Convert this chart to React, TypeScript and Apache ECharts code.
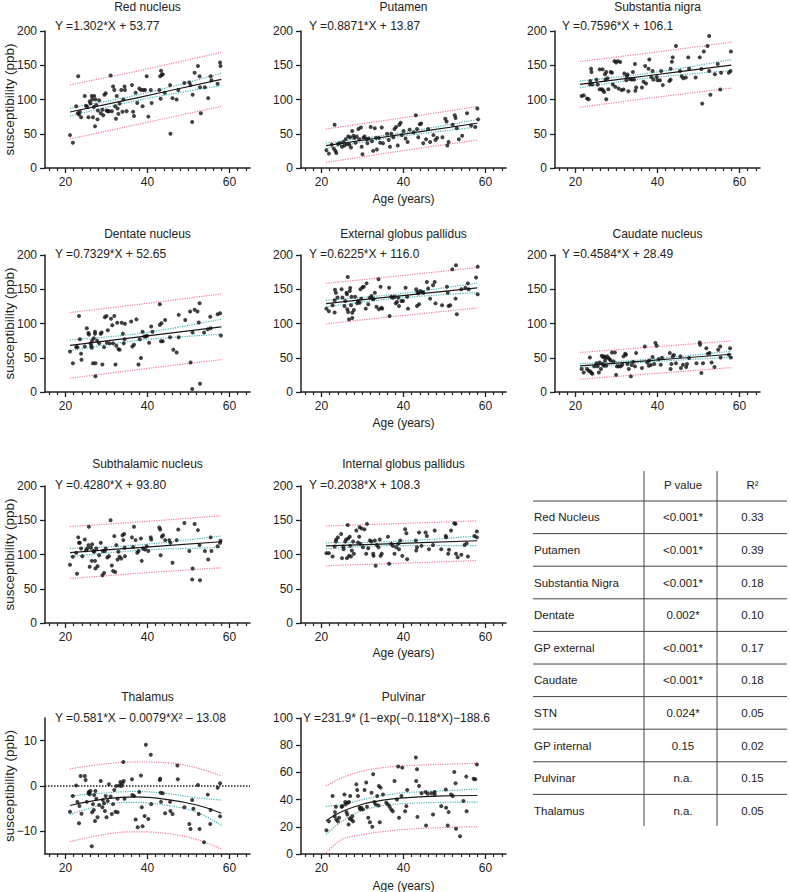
import { useEffect, useRef } from "react";
import * as echarts from "echarts";

// ---------- data ----------
const linearAges = [21.1, 38, 58];
const thalamusAges = [21.1, 30, 37, 45, 52, 58];
const pulvinarAges = [21.1, 25, 30, 35, 40, 50, 58];

const xMajorTicks = [20, 40, 60];
const xMinorTicks = [16, 18, 22, 24, 26, 28, 30, 32, 34, 36, 38, 42, 44, 46, 48, 50, 52, 54, 56, 58, 62, 64];
const thalamusYTicks = [-10, 0, 10];

const panelTitles = [
  "Red nucleus", "Putamen", "Substantia nigra",
  "Dentate nucleus", "External globus pallidus", "Caudate nucleus",
  "Subthalamic nucleus", "Internal globus pallidus",
  "Thalamus", "Pulvinar",
];
const panelEquations = [
  "Y =1.302*X + 53.77", "Y =0.8871*X + 13.87", "Y =0.7596*X + 106.1",
  "Y =0.7329*X + 52.65", "Y =0.6225*X + 116.0", "Y =0.4584*X + 28.49",
  "Y =0.4280*X + 93.80", "Y =0.2038*X + 108.3",
  "Y =0.581*X – 0.0079*X² – 13.08", "Y =231.9* (1−exp(−0.118*X)−188.6",
];

const redNucleusPoints = [[21.1,48],[21.8,37],[22.6,90],[23.1,134],[23,80],[23.3,78],[23.5,82],[23.8,74],[24.7,105],[25,91],[25.3,89],[25.6,74],[25.9,97],[26.1,94],[26.4,105],[26.5,100],[26.7,74],[26.9,89],[27,105],[27.2,61],[27.3,100],[27.5,92],[27.8,71],[27.9,84],[28.2,99],[28.6,80],[29,85],[29.2,77],[29.5,107],[29.8,109],[30,84],[30.3,83],[30.6,83],[31,135],[31.3,83],[31.6,119],[31.9,114],[32.1,90],[32.3,72],[32.5,105],[32.7,87],[32.9,79],[33.2,94],[33.6,114],[33.9,82],[34.1,100],[34.4,119],[34.5,114],[34.9,83],[36.2,121],[36.5,82],[36.7,76],[37.1,110],[37.5,95],[38,116],[38.4,114],[38.8,90],[39,114],[39.4,114],[39.8,134],[40.2,75],[40.8,114],[41,95],[42.9,114],[43.1,134],[43.3,142],[43.5,136],[43.7,137],[43.2,101],[44.2,110],[45.5,121],[45.6,50],[46.1,102],[47.1,100],[47.5,114],[49,124],[50.2,125],[50.5,121],[50.9,67],[51,107],[51.5,139],[52.3,149],[52.7,134],[52.8,118],[53,80],[54,118],[54.8,102],[55.4,134],[55.6,128],[57.1,123],[57.7,154],[57.8,149]];
const redNucleusFit = [81.8, 103.2, 129.3];
const redNucleusCiHigh = [87.8, 107.2, 138.3];
const redNucleusCiLow = [75.8, 99.2, 120.3];
const redNucleusPiHigh = [121.3, 142.2, 168.8];
const redNucleusPiLow = [42.3, 64.2, 89.8];

const putamenPoints = [[21.2,26],[21.8,21],[22.5,34],[23,28],[23.2,63],[23.4,25],[23.6,22],[24,35],[24.5,36],[25,31],[25.3,38],[25.6,33],[25.9,42],[26.2,35],[26.5,46],[26.8,34],[27,45],[27.2,30],[27.5,54],[27.8,47],[28,44],[28.3,37],[28.6,46],[29,57],[29.2,42],[29.6,59],[29.8,31],[30,20],[30.2,44],[30.5,46],[31,42],[31.2,36],[31.5,43],[32,60],[32.3,39],[32.6,25],[33,58],[33.3,44],[33.5,27],[34,44],[34.3,37],[34.7,59],[35,36],[36,50],[36.4,41],[36.7,31],[37,50],[37.5,45],[37.8,57],[38.2,60],[38.6,33],[39,63],[39.3,66],[39.6,48],[40,54],[40.5,43],[41,38],[41.5,56],[42.5,52],[43,77],[43.3,57],[43.6,45],[44,64],[44.3,65],[44.8,36],[45.5,42],[46,57],[46.5,38],[47.3,48],[47.8,41],[48.2,44],[49.5,45],[50.2,72],[50.5,68],[50.7,33],[51,38],[52,63],[52.5,77],[52.7,73],[53,58],[53.5,42],[54.3,47],[55.5,80],[56.5,62],[57.5,60],[58,87],[58.2,71]];
const putamenFit = [32.6, 47.6, 65.3];
const putamenCiHigh = [36.6, 50.1, 70.8];
const putamenCiLow = [28.6, 45.1, 59.8];
const putamenPiHigh = [57.1, 71.6, 89.8];
const putamenPiLow = [8.1, 23.6, 40.8];

const nigraPoints = [[21.5,105],[22,106],[22.8,101.5],[23.2,100.5],[23.5,122.4],[23.6,127],[23.8,145],[23.9,140],[24.1,122],[25.1,129],[25.4,122],[25.9,144],[25.9,115],[26.4,115],[26.6,144],[26.7,113.6],[27,111],[27.2,137],[27.3,129],[27.5,140],[27.5,100.5],[27.8,131],[28,115],[28.6,140],[28.9,139],[29.1,122],[29.5,156],[29.7,118.5],[29.9,154],[30.3,156],[30.5,116],[30.9,154.6],[31.2,113.7],[31.7,114.6],[31.9,138],[32.4,128],[32.5,134],[32.7,136.6],[32.9,112],[33.3,130],[33.7,129],[34,140],[34.3,129],[34.5,151.7],[34.6,112.7],[34.8,117.6],[36.2,117.6],[36.6,126],[37,148.8],[37.2,123.4],[37.8,145],[38,158.5],[38.5,133],[38.8,141.5],[39,129],[39.8,133],[40,128],[40.6,128],[40.9,141.5],[41.3,121],[42.9,127],[43.2,129],[43.2,145],[43.5,155],[43.7,161.5],[44.5,178],[45.5,141.5],[45.9,134],[46.3,131],[46.9,132],[47.5,161.5],[47.7,145],[49.3,132],[50.3,161.5],[50.7,144.4],[50.9,94],[51.3,170],[52.2,178],[52.6,192.7],[52.6,141.5],[52.9,107],[54,137],[54.7,151.7],[55.3,114.6],[55.5,139],[57.4,139],[57.8,141.5],[57.9,170]];
const nigraFit = [122.1, 135, 150.2];
const nigraCiHigh = [127.1, 138.5, 158.2];
const nigraCiLow = [117.1, 131.5, 142.2];
const nigraPiHigh = [155.6, 168, 183.7];
const nigraPiLow = [88.6, 102, 116.7];

const dentatePoints = [[21.1,59],[21.8,42],[22.6,65.5],[22.9,65.5],[23.3,111],[23.5,77],[23.8,56],[23.9,47],[24.7,66.5],[25.2,93],[25.6,86],[25.7,84],[26.1,71],[26.3,67.5],[26.4,64.6],[26.5,75],[26.7,42],[26.9,78.6],[27.2,88],[27.2,85],[27.3,42],[27.3,23],[27.7,75],[28.2,71],[28.6,85],[28.8,87],[29,40],[29.4,65.5],[29.6,109],[30,111],[30.1,72],[30.3,90],[30.8,71],[31.1,107],[31.4,97.6],[31.6,71],[31.9,111],[32.2,40],[32.4,67.5],[32.6,101],[32.9,62.6],[33.2,61.7],[33.7,101],[34,85],[34.2,71],[34.4,77],[34.5,99.5],[36,103],[36.3,66.5],[36.7,69],[37.3,106],[37.8,40],[38.1,77],[38.4,49.5],[38.8,88],[39.2,81],[39.6,81],[39.9,82],[40.4,72],[40.9,95.6],[41.2,88],[43,128],[43,98],[43.3,74],[43.4,100.5],[43.7,74],[44.3,105],[45.5,80],[46.3,61.7],[47.1,57.8],[47.6,112.6],[47.6,80],[49.2,105],[50.4,117.5],[50.5,43],[50.9,4.4],[51,87],[51.5,120],[52.2,117.5],[52.5,101.5],[52.7,129.6],[52.8,12],[53.8,87],[54.7,91.7],[55.3,110],[55.4,93],[57.1,113.6],[57.7,115],[57.9,82.5]];
const dentateFit = [68.1, 80.5, 95.2];
const dentateCiHigh = [76.1, 85.5, 106.2];
const dentateCiLow = [60.1, 75.5, 84.2];
const dentatePiHigh = [116.1, 128, 143.2];
const dentatePiLow = [20.1, 33, 47.2];

const externalGpPoints = [[21.2,121.7],[21.8,118],[22.7,126.5],[23.2,134],[23.3,149.4],[23.5,145],[23.2,116],[23.9,138],[24.9,150],[25.1,138],[25.6,125.5],[25.8,132.8],[26.1,145],[26.2,142.6],[26.3,120.7],[26.4,168],[26.5,116.8],[26.7,106],[26.9,147.4],[27,151.8],[27.2,126.5],[27.3,139],[27.5,115.8],[27.5,108],[27.9,119.7],[28.2,139],[28.7,129.6],[28.9,132.8],[29.3,130.4],[29.5,150],[29.7,136.3],[30,152.8],[30.3,153.8],[30.8,121.7],[31,158.6],[31.4,128],[31.8,137.7],[32.2,140],[32.4,136.3],[32.7,135.3],[33,145],[33.4,124.6],[33.9,164.5],[34,120.7],[34.4,153.8],[34.6,123],[34.8,121.7],[36.5,152.3],[36.6,111],[37,139],[37.4,137.7],[37.8,139],[38.1,129.4],[38.4,131.4],[38.7,137.7],[38.9,125.5],[39.5,132.8],[39.9,132.8],[40.5,152.3],[40.9,139],[41.1,121.7],[43.1,150],[43.3,125.5],[43.4,146],[43.6,144],[43.8,128],[44.1,147.4],[44.6,146],[44.9,145],[45.7,160.5],[46,151],[46.5,136.3],[47.2,155.7],[47.6,160.5],[47.8,129.4],[49.4,126.5],[50.6,153.8],[50.8,145],[51,125.5],[51.4,126.5],[51.9,179],[52.8,185],[52.7,136.3],[53,113.4],[54.1,150],[55.1,152.3],[55.7,158.6],[55.9,150],[57.7,167],[58.1,183],[58.1,142.6]];
const externalGpFit = [129.1, 139.7, 152.1];
const externalGpCiHigh = [134.1, 142.7, 159.1];
const externalGpCiLow = [124.1, 136.7, 145.1];
const externalGpPiHigh = [158.6, 169, 181.6];
const externalGpPiLow = [99.6, 110.4, 122.6];

const caudatePoints = [[21.5,33.5],[22,28.6],[22.8,33.5],[23.2,31],[23.5,50.5],[23.6,30],[23.9,27.7],[24.1,26.7],[24.6,37.4],[25.1,42],[25.4,37.4],[25.7,28.6],[25.9,43],[26.2,33.5],[26.4,53],[26.6,41],[26.7,51],[26.9,38.3],[27,52],[27.2,45.6],[27.3,49.5],[27.5,38.3],[27.7,52],[28,49.5],[28.3,48],[28.6,46],[28.9,57.8],[29.3,44.7],[29.6,57.8],[29.9,25],[30.1,37.4],[30.5,37.4],[31,37.4],[31.4,39.8],[31.7,52],[32.1,55.8],[32.3,54.4],[32.7,41],[33,33.5],[33.5,22.8],[33.7,39.3],[34.1,44],[34.5,37.4],[34.8,56.8],[36.2,35],[36.9,66.5],[37.5,43],[37.9,38.3],[38,46],[38.4,39.3],[38.8,51],[39.2,41],[39.5,71.4],[39.8,67.5],[40.3,48],[40.8,39.8],[41.1,50],[43,56.8],[43.2,33.5],[43.4,41],[43.7,52],[44,53.9],[44.5,42],[45.6,52],[45.7,35],[46.2,39.8],[47,36.4],[47.2,41],[47.7,49.5],[49.5,42],[50.3,72.3],[50.4,69],[50.7,27.7],[51.1,42],[51.9,64],[52.3,55.8],[52.7,56.8],[53.2,43],[53.9,36.4],[54.8,61.7],[55.3,66.5],[55.4,50.5],[57.4,54.4],[57.7,64],[57.9,50.5]];
const caudateFit = [38.2, 45.9, 55.1];
const caudateCiHigh = [41.2, 47.9, 59.6];
const caudateCiLow = [35.2, 43.9, 50.6];
const caudatePiHigh = [57.7, 65.4, 74.6];
const caudatePiLow = [18.7, 26.4, 35.6];

const subthalamicPoints = [[21.1,85],[21.8,96.6],[22.6,102.4],[22.8,72],[23.1,125],[23.3,117],[23.5,117],[23.8,108.8],[24.1,97.6],[24.7,122],[25,106],[25.3,108.8],[25.6,113.7],[25.7,140.5],[25.9,82],[26.2,110],[26.4,90.7],[26.5,115],[26.8,105],[27,104],[27.2,90.7],[27.3,79.5],[27.5,108.8],[27.8,83],[28.2,99],[28.6,117],[29,69.8],[29.1,105],[29.4,73],[29.6,105],[29.8,108.8],[30.2,95.6],[30.6,97.6],[31,150],[31.3,84],[31.6,76],[31.9,126.8],[32.1,74.6],[32.4,113.7],[32.7,92.7],[32.9,104],[33.2,96.6],[33.6,94],[33.9,128],[34.1,121],[34.3,130],[34.4,110],[34.5,97.6],[36.2,125],[36.5,111],[36.7,140.5],[37.1,121],[37.5,102.4],[37.8,105],[38.4,123.4],[38.6,90.7],[38.9,108.8],[39.4,107.3],[39.8,112],[40.2,105],[40.8,125],[40.9,122],[42.9,139.5],[43.1,136.6],[43.2,99],[43.5,126],[43.8,128],[44.3,121],[45.3,121],[45.6,117],[46.1,87.8],[47.1,121],[47.5,136.6],[49,146],[50.2,105],[50.9,63.4],[51,79.5],[51.5,144.4],[52.3,135.6],[52.7,113.7],[52.8,62.4],[54,105],[54.8,92.7],[55.4,125],[55.6,105],[57.1,112],[57.7,117],[57.8,120]];
const subthalamicFit = [102.8, 110.1, 118.6];
const subthalamicCiHigh = [108.8, 114.1, 127.1];
const subthalamicCiLow = [96.8, 106.1, 110.1];
const subthalamicPiHigh = [140.8, 147.6, 156.6];
const subthalamicPiLow = [64.8, 72.6, 80.6];

const internalGpPoints = [[21.2,102],[21.8,102],[22.7,97],[23.2,111.7],[23.5,119],[23.6,122],[24,125],[24.8,130],[25,94.7],[25.3,111.7],[25.4,107.8],[25.8,119],[26,122],[26.2,94.7],[26.4,143],[26.5,123.3],[26.7,98],[26.9,126],[27,112.6],[27.2,97],[27.4,105.8],[27.7,119],[27.9,101],[28.5,135],[28.9,117.5],[29.2,126],[29.3,139.8],[29.5,115.5],[29.8,138],[30.1,110.7],[30.5,136.7],[30.9,101],[31.1,144.7],[31.4,109],[31.8,120.4],[32.2,119],[32.6,101],[32.7,98],[33,120.4],[33.2,83.5],[33.5,114],[33.9,110.7],[34.2,122],[34.4,98],[34.7,101],[36.2,126],[36.5,86.4],[37,115.5],[37.4,112.6],[37.8,101],[38.2,110.7],[38.7,115.5],[38.9,107.8],[39.2,120.4],[39.7,98],[40.4,136.9],[40.7,131],[40.9,93],[43,120.4],[43.1,105.8],[43.3,110.7],[43.8,132],[44.4,112.6],[45.4,132],[45.7,127],[46.2,107.8],[47.2,114],[47.6,135],[49.2,107.8],[50.3,127],[50.4,125],[50.9,101],[51.1,106.8],[51.6,135],[52.4,145.6],[52.7,144.7],[52.8,101],[53.2,96],[54.1,99.5],[54.9,114],[55.4,116.5],[55.7,97],[57.3,127],[57.9,133.5],[57.9,125]];
const internalGpFit = [112.6, 116, 120.1];
const internalGpCiHigh = [117.1, 119, 127.1];
const internalGpCiLow = [108.1, 113, 113.1];
const internalGpPiHigh = [141.6, 145, 149.1];
const internalGpPiLow = [83.6, 87, 91.1];

const thalamusPoints = [[21.1,-5.7],[21.8,-2.2],[22.6,0.1],[22.9,-3.5],[23.3,-8.2],[23.4,-4.4],[23.7,2.2],[23.9,-6.1],[24.7,2.2],[24.9,1.3],[25.2,-3.5],[25.6,-1.6],[25.7,-1.3],[25.9,-1.8],[26.1,-1.1],[26.4,-13.3],[26.5,-5.8],[26.7,-4],[26.9,-5.3],[27,-2],[27.2,-7.7],[27.3,-1.1],[27.5,-2.8],[27.8,-6.9],[28.2,-4.2],[28.6,1.1],[29,-4.7],[29.1,-3.1],[29.4,-3.8],[29.6,-5.5],[29.8,-2.2],[30,-6.9],[30.3,-3.3],[30.6,0.4],[31,-2.3],[31.3,-6.2],[31.6,-4],[31.9,-0.9],[32.2,-5.7],[32.4,0],[32.7,-2.8],[32.7,-5.8],[33.1,0.1],[33.4,0.9],[33.6,0],[33.9,0.6],[34.1,5.3],[34.2,1.1],[34.4,-2.8],[36.2,1.5],[36.3,-2],[36.7,-2.2],[37.1,-7.4],[37.6,-9.1],[38,-1.3],[38.4,2.3],[38.6,-4.7],[38.8,-8.9],[39.3,-6.6],[39.6,9.1],[40.2,-7.3],[40.8,6.9],[40.9,-4],[43,1.3],[43.1,1.6],[43.2,-1.5],[43.3,-3.5],[43.7,-1.6],[44.3,-6],[45.5,-3.5],[45.6,-5.5],[46.1,-6.2],[47.3,4.5],[47.4,1.5],[49,-4.7],[50.2,-8.4],[50.5,-9.5],[50.9,-3.1],[51.2,-5],[52.3,0.2],[52.5,-6.2],[52.7,-9.5],[53.8,-12.4],[54.7,-1.9],[55.3,-8.4],[55.4,-5.3],[57.1,-0.4],[57.7,0.6],[57.7,-6.7]];
const thalamusFit = [-4.3, -2.8, -2.4, -3.0, -4.2, -6.0];
const thalamusCiHigh = [-2.2, -1.5, -1.2, -1.7, -2.6, -3.1];
const thalamusCiLow = [-6.3, -4.0, -3.6, -4.3, -5.8, -8.7];
const thalamusPiHigh = [3.8, 4.9, 5.3, 5.1, 4.0, 2.2];
const thalamusPiLow = [-12.3, -10.6, -10.1, -10.5, -11.8, -13.9];

const pulvinarPoints = [[21.2,17.5],[21.8,24],[22.7,42.6],[23.2,27.8],[23.3,30.8],[23.5,34.7],[23.6,25.4],[24,24],[24.3,26.6],[24.9,34.7],[25.1,35.2],[25.6,43.8],[25.8,38.2],[25.9,36.5],[26.1,30.8],[26.3,29],[26.4,37.7],[26.6,21.7],[26.7,38.2],[26.9,25.9],[27,42.6],[27.3,25.4],[27.5,27.8],[27.7,24],[28.5,51.2],[28.7,47],[28.9,42.6],[29.3,34],[29.5,32.8],[29.7,34],[30.1,32.8],[30.5,47],[30.9,52.5],[31.1,34.7],[31.4,26.6],[31.8,23.4],[32.2,45],[32.4,20],[32.6,58.6],[32.9,38.2],[33.2,36.5],[33.6,42.6],[33.9,35.7],[34,50],[34.2,23.4],[34.4,48.8],[35,43.8],[35.8,37.7],[36.2,36.5],[36.6,34.7],[37,32.8],[37.4,31.5],[37.8,53.7],[38.4,40],[38.7,64.3],[38.9,26.6],[39.5,42.6],[39.7,63.5],[40.4,31.5],[40.7,35.2],[40.9,47],[43,71],[43.1,53.7],[43.3,62.3],[43.4,27.3],[43.8,50],[44.4,44.6],[45.4,45.6],[45.5,21],[45.9,44.3],[46.8,44.6],[47.2,29],[47.6,45.6],[47.6,43.8],[49.2,35.2],[50.3,47.5],[50.4,34],[50.8,21],[51,30.8],[51.6,43.8],[52,42.6],[52.4,60.3],[52.7,52],[52.8,18.5],[53.8,13],[54.6,38.9],[55.3,56.9],[55.4,31.5],[57.1,55.4],[57.5,55],[57.9,65.8]];
const pulvinarFit = [24.5, 31.2, 36.6, 39.6, 41.2, 42.7, 43.0];
const pulvinarCiHigh = [35, 36.5, 40, 43, 45, 46.5, 47.8];
const pulvinarCiLow = [14.5, 24, 32, 35.5, 37, 38, 38.2];
const pulvinarPiHigh = [50, 56, 61, 63.5, 64.8, 66, 66.7];
const pulvinarPiLow = [0.7, 10.6, 14.3, 16.5, 18, 19.5, 20];

const tableRegions = ["Red Nucleus", "Putamen", "Substantia Nigra", "Dentate", "GP external", "Caudate", "STN", "GP internal", "Pulvinar", "Thalamus"];
const tablePValues = ["<0.001*", "<0.001*", "<0.001*", "0.002*", "<0.001*", "<0.001*", "0.024*", "0.15", "n.a.", "n.a."];
const tableR2 = ["0.33", "0.39", "0.18", "0.10", "0.17", "0.18", "0.05", "0.02", "0.15", "0.05"];

// ---------- layout ----------
const FONT = "'Liberation Sans', Arial, Helvetica, sans-serif";
const INK = "#222";
const PINK = "#f27aa5";
const CYAN = "#4cb5bb";
const panelRows = [0, 0, 0, 1, 1, 1, 2, 2, 3, 3];
const panelCols = [0, 1, 2, 0, 1, 2, 0, 1, 0, 1];
const colLefts = [45, 301, 555];
const rowTops = [31, 255, 486, 718];
const rowHeights = [137, 137, 137, 136];
const gridWidth = 205;
const titleYs = [7, 234, 464, 697];
const eqYs = [25.5, 254, 484.5, 718];
const eqXs = [55, 309, 562];
const xLabelYs = [183, 407, 637, 870];

const panels = [
  { pts: redNucleusPoints, ages: linearAges, fit: redNucleusFit, ciH: redNucleusCiHigh, ciL: redNucleusCiLow, piH: redNucleusPiHigh, piL: redNucleusPiLow },
  { pts: putamenPoints, ages: linearAges, fit: putamenFit, ciH: putamenCiHigh, ciL: putamenCiLow, piH: putamenPiHigh, piL: putamenPiLow },
  { pts: nigraPoints, ages: linearAges, fit: nigraFit, ciH: nigraCiHigh, ciL: nigraCiLow, piH: nigraPiHigh, piL: nigraPiLow },
  { pts: dentatePoints, ages: linearAges, fit: dentateFit, ciH: dentateCiHigh, ciL: dentateCiLow, piH: dentatePiHigh, piL: dentatePiLow },
  { pts: externalGpPoints, ages: linearAges, fit: externalGpFit, ciH: externalGpCiHigh, ciL: externalGpCiLow, piH: externalGpPiHigh, piL: externalGpPiLow },
  { pts: caudatePoints, ages: linearAges, fit: caudateFit, ciH: caudateCiHigh, ciL: caudateCiLow, piH: caudatePiHigh, piL: caudatePiLow },
  { pts: subthalamicPoints, ages: linearAges, fit: subthalamicFit, ciH: subthalamicCiHigh, ciL: subthalamicCiLow, piH: subthalamicPiHigh, piL: subthalamicPiLow },
  { pts: internalGpPoints, ages: linearAges, fit: internalGpFit, ciH: internalGpCiHigh, ciL: internalGpCiLow, piH: internalGpPiHigh, piL: internalGpPiLow },
  { pts: thalamusPoints, ages: thalamusAges, fit: thalamusFit, ciH: thalamusCiHigh, ciL: thalamusCiLow, piH: thalamusPiHigh, piL: thalamusPiLow },
  { pts: pulvinarPoints, ages: pulvinarAges, fit: pulvinarFit, ciH: pulvinarCiHigh, ciL: pulvinarCiLow, piH: pulvinarPiHigh, piL: pulvinarPiLow },
];

function buildOption() {
  const grid: any[] = [];
  const xAxis: any[] = [];
  const yAxis: any[] = [];
  const series: any[] = [];
  const graphic: any[] = [];

  panels.forEach((p, i) => {
    const row = panelRows[i];
    const col = panelCols[i];
    const left = colLefts[col];
    const top = rowTops[row];
    grid.push({ left, top, width: gridWidth, height: rowHeights[row], containLabel: false });

    const axisLine = { show: true, onZero: false, lineStyle: { color: INK, width: 1.5 } };
    xAxis.push({
      type: "value", gridIndex: i, min: 15, max: 65, position: "bottom",
      axisLine,
      axisTick: { show: true, customValues: xMajorTicks, length: 5, lineStyle: { color: INK, width: 1.3 } },
      axisLabel: { customValues: xMajorTicks, fontSize: 12, color: INK, fontFamily: FONT, margin: 8 },
      splitLine: { show: false },
    });
    xAxis.push({
      type: "value", gridIndex: i, min: 15, max: 65, position: "bottom",
      axisLine: { show: false, onZero: false },
      axisTick: { show: true, customValues: xMinorTicks, length: 3, lineStyle: { color: INK, width: 1.2 } },
      axisLabel: { show: false },
      splitLine: { show: false },
    });

    let yCfg: any;
    if (i === 8) {
      yCfg = {
        min: -15, max: 15,
        axisTick: { show: true, customValues: thalamusYTicks, length: 5, lineStyle: { color: INK, width: 1.3 } },
        axisLabel: { customValues: thalamusYTicks, formatter: (v: number) => String(v).replace("-", "−") },
      };
    } else if (i === 9) {
      yCfg = { min: 0, max: 100, interval: 20, axisTick: { show: true, length: 5, lineStyle: { color: INK, width: 1.3 } }, axisLabel: {} };
    } else {
      yCfg = { min: 0, max: 200, interval: 50, axisTick: { show: true, length: 5, lineStyle: { color: INK, width: 1.3 } }, axisLabel: {} };
    }
    yAxis.push({
      type: "value", gridIndex: i, min: yCfg.min, max: yCfg.max, interval: yCfg.interval,
      axisLine,
      axisTick: yCfg.axisTick,
      axisLabel: { ...yCfg.axisLabel, fontSize: 12, color: INK, fontFamily: FONT, margin: 8 },
      splitLine: { show: false },
    });

    const line = (vals: number[], color: string, dotted: boolean, width: number) => ({
      type: "line", xAxisIndex: 2 * i, yAxisIndex: i, silent: true,
      data: p.ages.map((a, k) => [a, vals[k]]),
      showSymbol: false, symbol: "none", smooth: vals.length > 2 ? 0.4 : false,
      lineStyle: { color, width, type: dotted ? "dotted" : "solid" },
      z: 2,
    });
    series.push(line(p.piH, PINK, true, 1.2));
    series.push(line(p.piL, PINK, true, 1.2));
    series.push(line(p.ciH, CYAN, true, 1.2));
    series.push(line(p.ciL, CYAN, true, 1.2));
    const scatter: any = {
      type: "scatter", xAxisIndex: 2 * i, yAxisIndex: i,
      data: p.pts, symbolSize: 4, itemStyle: { color: "#111" }, z: 3,
    };
    if (i === 8) {
      scatter.markLine = {
        silent: true, symbol: "none", label: { show: false },
        lineStyle: { color: INK, type: "dotted", width: 1.5 },
        data: [{ yAxis: 0 }],
      };
    }
    series.push(scatter);
    series.push(line(p.fit, "#1a1a1a", false, 1.2));

    graphic.push({
      type: "text", x: left + gridWidth / 2, y: titleYs[row],
      style: { text: panelTitles[i], fill: INK, font: `12px ${FONT}`, textAlign: "center", textVerticalAlign: "middle" },
    });
    graphic.push({
      type: "text", x: i === 9 ? 303 : eqXs[col], y: eqYs[row],
      style: { text: panelEquations[i], fill: INK, font: `12px ${FONT}`, textAlign: "left", textVerticalAlign: "middle" },
    });
    if (col === 0) {
      graphic.push({
        type: "text", x: 9, y: top + rowHeights[row] / 2, rotation: Math.PI / 2,
        style: { text: "susceptibility (ppb)", fill: INK, font: `13.5px ${FONT}`, textAlign: "center", textVerticalAlign: "middle" },
      });
    }
    if (col === 1) {
      graphic.push({
        type: "text", x: left + gridWidth / 2, y: xLabelYs[row] + 16,
        style: { text: "Age (years)", fill: INK, font: `12px ${FONT}`, textAlign: "center", textVerticalAlign: "middle" },
      });
    }
  });

  // table
  const tLineX1 = 533, tLineX2 = 787, tFirst = 501, tStep = 32.6;
  const tStroke = { stroke: "#444", lineWidth: 1 };
  graphic.push({ type: "line", shape: { x1: 644, y1: 471, x2: 644, y2: 826 }, style: tStroke });
  graphic.push({ type: "line", shape: { x1: 717, y1: 471, x2: 717, y2: 826 }, style: tStroke });
  tableRegions.forEach((_, k) => {
    const y = tFirst + k * tStep;
    graphic.push({ type: "line", shape: { x1: tLineX1, y1: y, x2: tLineX2, y2: y }, style: tStroke });
  });
  graphic.push({ type: "text", x: 683, y: 484.5, style: { text: "P value", fill: INK, font: `11.5px ${FONT}`, textAlign: "center", textVerticalAlign: "middle" } });
  graphic.push({
    type: "text", x: 752.5, y: 484.5,
    style: { text: "R²", fill: INK, font: `11.5px ${FONT}`, textAlign: "center", textVerticalAlign: "middle" },
  });
  tableRegions.forEach((name, k) => {
    const y = tFirst + tStep / 2 + k * tStep;
    graphic.push({ type: "text", x: 534, y, style: { text: name, fill: INK, font: `11.5px ${FONT}`, textAlign: "left", textVerticalAlign: "middle" } });
    graphic.push({ type: "text", x: 683, y, style: { text: tablePValues[k], fill: INK, font: `11.5px ${FONT}`, textAlign: "center", textVerticalAlign: "middle" } });
    graphic.push({ type: "text", x: 752.5, y, style: { text: tableR2[k], fill: INK, font: `11.5px ${FONT}`, textAlign: "center", textVerticalAlign: "middle" } });
  });

  return {
    animation: false,
    backgroundColor: "#ffffff",
    textStyle: { fontFamily: FONT },
    grid, xAxis, yAxis, series, graphic,
  };
}

export default function App() {
  const ref = useRef<HTMLDivElement>(null);
  useEffect(() => {
    document.body.style.margin = "0";
    const chart = echarts.init(ref.current!, undefined, { renderer: "svg" });
    chart.setOption(buildOption() as any);
    return () => chart.dispose();
  }, []);
  return <div ref={ref} style={{ position: "fixed", left: 0, top: 0, width: 790, height: 892, background: "#fff" }} />;
}
